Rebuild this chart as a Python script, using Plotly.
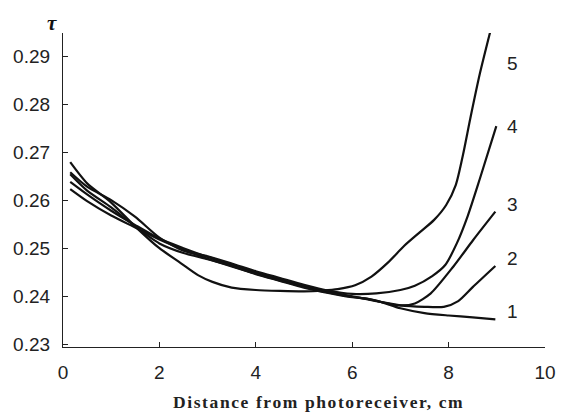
import plotly.graph_objects as go

# ---- data ----
x1 = [0.15, 0.5, 1, 1.5, 2, 2.5, 3, 3.5, 4, 4.5, 5, 5.5, 6, 6.5, 7, 7.5, 8, 8.5, 8.97]
y1 = [0.2623, 0.2598, 0.2568, 0.2543, 0.2518, 0.2497, 0.2478, 0.2462, 0.2447, 0.2433,
      0.2420, 0.2408, 0.2399, 0.2391, 0.2375, 0.2365, 0.2360, 0.2356, 0.2352]

x2 = [0.15, 0.5, 1, 1.5, 2, 2.5, 3, 3.5, 4, 4.5, 5, 5.5, 6, 6.5, 7, 7.5, 7.9, 8.2, 8.5, 8.97]
y2 = [0.2638, 0.2612, 0.2578, 0.2548, 0.2520, 0.2500, 0.2482, 0.2466, 0.2450, 0.2436,
      0.2422, 0.2410, 0.2400, 0.2390, 0.2381, 0.2378, 0.2378, 0.2390, 0.2419, 0.2463]

x3 = [0.15, 0.5, 1, 1.5, 2, 2.5, 3, 3.5, 4, 4.5, 5, 5.5, 6, 6.3, 6.6, 7, 7.3, 7.63, 8.1, 8.51, 8.97]
y3 = [0.2654, 0.2620, 0.2585, 0.2545, 0.2510, 0.2490, 0.2477, 0.2463, 0.2446, 0.2432,
      0.2418, 0.2407, 0.2398, 0.2395, 0.2388, 0.2381, 0.2385, 0.2406, 0.2462, 0.2517, 0.2576]

x4 = [0.15, 0.5, 1, 1.5, 2, 2.5, 3, 3.5, 4, 4.5, 5, 5.5, 6, 6.5, 7, 7.3, 7.66, 7.93, 8.17, 8.4, 8.65, 8.99]
y4 = [0.2658, 0.2628, 0.2600, 0.2565, 0.2522, 0.2495, 0.2483, 0.2468, 0.2452, 0.2438,
      0.2424, 0.2412, 0.2405, 0.2406, 0.2413, 0.2422, 0.2442, 0.2465, 0.2510, 0.2568, 0.2645, 0.2754]

x5 = [0.15, 0.5, 1, 1.5, 2, 2.4, 2.8, 3.1, 3.5, 4, 4.5, 5, 5.4, 5.7, 6.06, 6.4, 6.74,
      7.08, 7.4, 7.7, 7.95, 8.15, 8.3, 8.45, 8.65, 8.87]
y5 = [0.2679, 0.2635, 0.2595, 0.2545, 0.2500, 0.2472, 0.2444, 0.2430, 0.2418, 0.2413,
      0.2411, 0.2410, 0.2412, 0.2415, 0.2423, 0.2441, 0.2470, 0.2505, 0.2533, 0.2559,
      0.2590, 0.2632, 0.2695, 0.2770, 0.2864, 0.2953]

curve_labels = ["1", "2", "3", "4", "5"]
label_values = [0.2368, 0.2478, 0.2592, 0.2754, 0.2885]
label_x = 9.32

x_ticks = [0, 2, 4, 6, 8, 10]
y_ticks = [0.23, 0.24, 0.25, 0.26, 0.27, 0.28, 0.29]

series = [(x1, y1), (x2, y2), (x3, y3), (x4, y4), (x5, y5)]

fig = go.Figure()
for xs, ys in series:
    fig.add_trace(go.Scatter(x=xs, y=ys, mode="lines",
                             line=dict(color="#111111", width=2.2, shape="spline", smoothing=0.7),
                             showlegend=False, hoverinfo="skip"))

annotations = []
for lab, v in zip(curve_labels, label_values):
    annotations.append(dict(x=label_x, y=v, xref="x", yref="y", text=lab, showarrow=False,
                            font=dict(family="Liberation Sans, Arial", size=19, color="#222"),
                            xanchor="center", yanchor="middle"))

annotations.append(dict(x=-0.0224, y=1.032, xref="paper", yref="paper",
                        text="<b><i>τ</i></b>", showarrow=False,
                        font=dict(family="Liberation Serif, Times New Roman", size=21, color="#111"),
                        xanchor="center", yanchor="middle"))

annotations.append(dict(x=0.5306, y=-0.175, xref="paper", yref="paper",
                        text='<span style="letter-spacing:1.6px"><b>Distance from photoreceiver, cm</b></span>',
                        showarrow=False,
                        font=dict(family="Liberation Serif, Times New Roman", size=17.5, color="#222"),
                        xanchor="center", yanchor="middle"))

fig.update_layout(
    width=568, height=412,
    margin=dict(l=63, r=15, t=33, b=65),
    paper_bgcolor="white", plot_bgcolor="white",
    annotations=annotations,
    xaxis=dict(range=[0, 10], tickvals=x_ticks, ticktext=[str(t) for t in x_ticks],
               showgrid=False, zeroline=False, showline=True, linecolor="#222", linewidth=1.3,
               ticks="inside", ticklen=5, tickcolor="#222", tickwidth=1.3,
               tickfont=dict(family="Liberation Sans, Arial", size=19, color="#222"),
               ticklabelstandoff=8),
    yaxis=dict(range=[0.22944, 0.29479], tickvals=y_ticks, ticktext=[f"{t:.2f}" for t in y_ticks],
               showgrid=False, zeroline=False, showline=True, linecolor="#222", linewidth=1.3,
               ticks="inside", ticklen=5, tickcolor="#222", tickwidth=1.3,
               tickfont=dict(family="Liberation Sans, Arial", size=19, color="#222"),
               ticklabelstandoff=8),
)

fig.write_html("out.html")
